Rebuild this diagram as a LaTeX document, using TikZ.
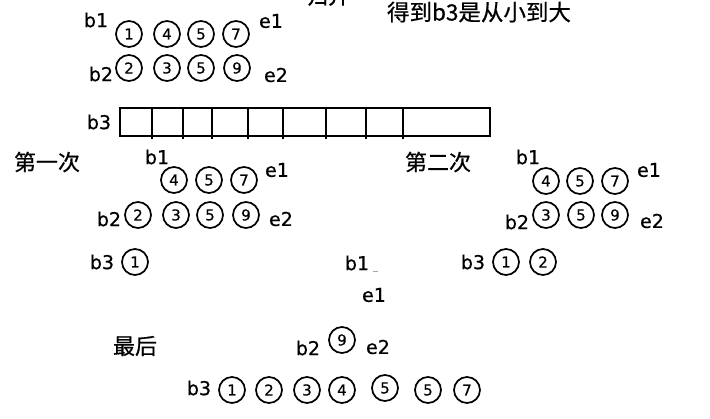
\documentclass[tikz,border=0pt]{standalone}
\usepackage{fontspec}
\setmainfont{DejaVu Sans}[FakeBold=0.6]
\newfontfamily\cjk{Noto Sans CJK SC}[FakeBold=0.6]
\begin{document}
\begin{tikzpicture}[x=1pt,y=-1pt,
  lbl/.style={font=\fontsize{19}{19}\selectfont, inner sep=0pt},
  zh/.style={font=\cjk\fontsize{22}{22}\selectfont, inner sep=0pt},
  num/.style={circle, draw, line width=1.7pt, minimum size=26pt, inner sep=0pt,
              font=\fontsize{15}{15}\selectfont},
  cell/.style={line width=1.9pt}]
\useasboundingbox (0,0) rectangle (710,418);
\clip (0,0) rectangle (710,418);
\fill[white] (0,0) rectangle (710,418);

% cut-off title and top note
\node[zh, anchor=south] (title) at (328,6) {归并};
\node[zh, font=\cjk\fontsize{22.5}{22.5}\selectfont] (note) at (479,12) {得到b3是从小到大};

% ---------- initial state ----------
\node[lbl] (b1a) at (96,20) {b1};
\node[num] (a11) at (129,34) {1};
\node[num] (a12) at (167,34) {4};
\node[num] (a13) at (201,34) {5};
\node[num] (a14) at (236,34) {7};
\node[lbl] (e1a) at (271,21) {e1};

\node[lbl] (b2a) at (101,74) {b2};
\node[num] (a21) at (129,68) {2};
\node[num] (a22) at (167,68) {3};
\node[num] (a23) at (201,68) {5};
\node[num] (a24) at (237,68) {9};
\node[lbl] (e2a) at (276,75) {e2};

\node[lbl] (b3a) at (99,122) {b3};
\node[draw, cell, minimum width=370pt, minimum height=28pt, inner sep=0pt] (arr) at (305,122) {};
\foreach \xx in {152,183,212,248,283,326,366,403}
  \draw[cell] (\xx,108) -- (\xx,139);

% ---------- first step ----------
\node[zh] (s1) at (47,162) {第一次};
\node[lbl] (b1b) at (157,157) {b1};
\node[num] (b11) at (174,180) {4};
\node[num] (b12) at (209,180) {5};
\node[num] (b13) at (244,180) {7};
\node[lbl] (e1b) at (277,170) {e1};

\node[lbl] (b2b) at (109,219) {b2};
\node[num] (b21) at (138,215) {2};
\node[num] (b22) at (176,215) {3};
\node[num] (b23) at (210,215) {5};
\node[num] (b24) at (246,215) {9};
\node[lbl] (e2b) at (281,219) {e2};

\node[lbl] (b3b) at (102,262) {b3};
\node[num] (b31) at (135,262) {1};

% ---------- second step ----------
\node[zh] (s2) at (438,162) {第二次};
\node[lbl] (b1c) at (528,157) {b1};
\node[num] (c11) at (546,181) {4};
\node[num] (c12) at (580,181) {5};
\node[num] (c13) at (615,181) {7};
\node[lbl] (e1c) at (649,170) {e1};

\node[lbl] (b2c) at (517,222) {b2};
\node[num] (c21) at (546,215) {3};
\node[num] (c22) at (581,215) {5};
\node[num] (c23) at (615,215) {9};
\node[lbl] (e2c) at (652,221) {e2};

\node[lbl] (b3c) at (473,262) {b3};
\node[num] (c31) at (506,262) {1};
\node[num] (c32) at (543,262) {2};

% ---------- last step ----------
\node[lbl] (b1d) at (357,263) {b1};
\draw[gray!70, line width=0.8pt] (373,271) -- (378,271);
\node[lbl] (e1d) at (374,295) {e1};

\node[zh] (s3) at (135,346) {最后};
\node[lbl] (b2d) at (308,348) {b2};
\node[num] (d21) at (342,340) {9};
\node[lbl] (e2d) at (378,347) {e2};

\node[lbl] (b3d) at (199,388) {b3};
\node[num] (d1) at (232,390) {1};
\node[num] (d2) at (269,390) {2};
\node[num] (d3) at (307,390) {3};
\node[num] (d4) at (342,390) {4};
\node[num] (d5) at (385,388) {5};
\node[num] (d6) at (428,390) {5};
\node[num] (d7) at (467,390) {7};
\end{tikzpicture}
\end{document}
